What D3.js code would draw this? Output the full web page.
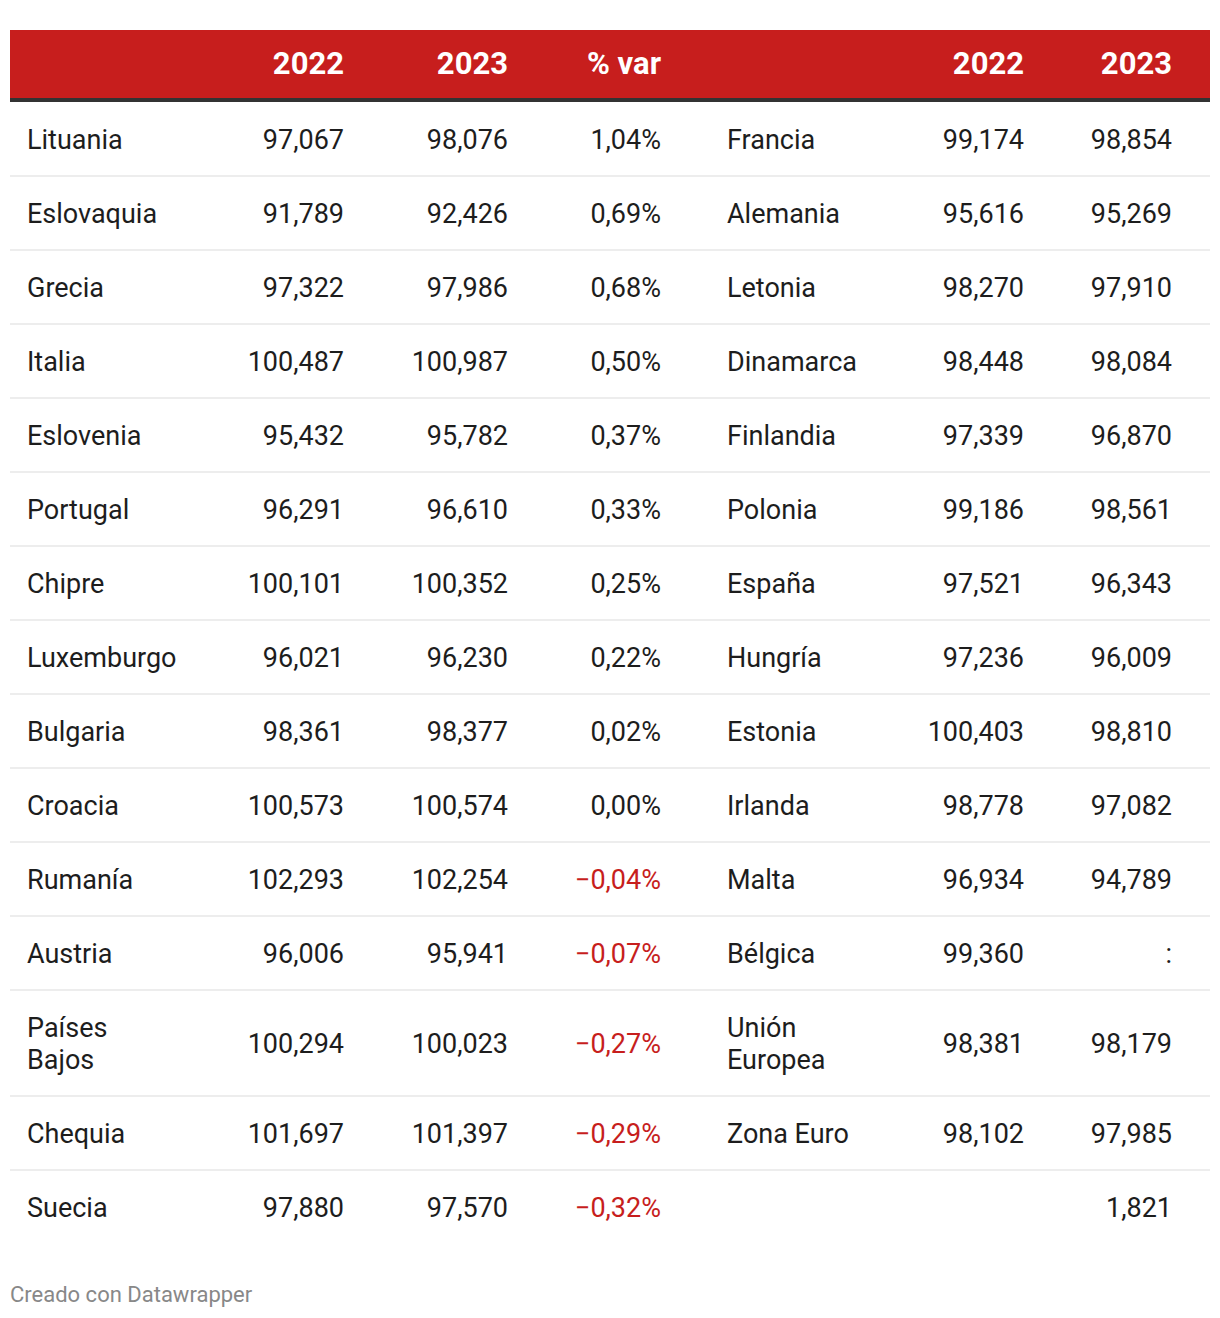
<!DOCTYPE html>
<html>
<head>
<meta charset="utf-8">
<script src="https://cdn.jsdelivr.net/npm/d3@7"></script>
<style>
  body { margin: 0; background: #fff; }
  svg { display: block; font-family: Roboto, "Noto Sans", sans-serif; }
</style>
</head>
<body>
<div id="chart"></div>
<script>
// left block
const leftNames = ["Lituania", "Eslovaquia", "Grecia", "Italia", "Eslovenia", "Portugal", "Chipre",
  "Luxemburgo", "Bulgaria", "Croacia", "Rumanía", "Austria", "Países Bajos", "Chequia", "Suecia"];
const left2022 = ["97,067", "91,789", "97,322", "100,487", "95,432", "96,291", "100,101",
  "96,021", "98,361", "100,573", "102,293", "96,006", "100,294", "101,697", "97,880"];
const left2023 = ["98,076", "92,426", "97,986", "100,987", "95,782", "96,610", "100,352",
  "96,230", "98,377", "100,574", "102,254", "95,941", "100,023", "101,397", "97,570"];
const pctVar = [1.04, 0.69, 0.68, 0.50, 0.37, 0.33, 0.25, 0.22, 0.02, 0.00, -0.04, -0.07, -0.27, -0.29, -0.32];

// right block
const rightNames = ["Francia", "Alemania", "Letonia", "Dinamarca", "Finlandia", "Polonia", "España",
  "Hungría", "Estonia", "Irlanda", "Malta", "Bélgica", "Unión Europea", "Zona Euro", ""];
const right2022 = ["99,174", "95,616", "98,270", "98,448", "97,339", "99,186", "97,521",
  "97,236", "100,403", "98,778", "96,934", "99,360", "98,381", "98,102", ""];
const right2023 = ["98,854", "95,269", "97,910", "98,084", "96,870", "98,561", "96,343",
  "96,009", "98,810", "97,082", "94,789", ":", "98,179", "97,985", "1,821"];

const headers = ["", "2022", "2023", "% var", "", "2022", "2023"];

const width = 1220, height = 1318;
const margin = {top: 30, left: 10, right: 10};
const red = "#c71e1d";

const svg = d3.select("#chart").append("svg")
  .attr("width", width)
  .attr("height", height)
  .attr("viewBox", [0, 0, width, height]);

// column anchors: name columns start-aligned, number columns end-aligned
const cols = d3.range(7);
const colX = d3.scaleOrdinal(cols, [27, 344, 508, 661, 727, 1024, 1172]);
const colAnchor = c => (c === 0 || c === 4) ? "start" : "end";

const fmtPct = v => (v < 0 ? "\u2212" : "") + d3.format(".2f")(Math.abs(v)).replace(".", ",") + "%";

const rows = leftNames.map((n, i) => ({
  cells: [n, left2022[i], left2023[i], fmtPct(pctVar[i]), rightNames[i], right2022[i], right2023[i]],
  neg: pctVar[i] < 0
}));

// header
const headH = 68;
svg.append("rect")
  .attr("x", margin.left).attr("y", margin.top)
  .attr("width", width - margin.left - margin.right).attr("height", headH)
  .attr("fill", red);
svg.append("rect")
  .attr("x", margin.left).attr("y", margin.top + headH)
  .attr("width", width - margin.left - margin.right).attr("height", 4)
  .attr("fill", "#333");

svg.append("g")
  .selectAll("text")
  .data(headers)
  .join("text")
  .attr("x", (d, i) => colX(i))
  .attr("y", margin.top + 44)
  .attr("text-anchor", (d, i) => colAnchor(i))
  .attr("fill", "#fff")
  .attr("font-weight", 700)
  .attr("font-size", 31)
  .text(d => d);

// body
const fontSize = 27, lineH = 32, nameMax = 151;
const body = svg.append("g");
let y = margin.top + headH + 4;

rows.forEach((r, ri) => {
  const g = body.append("g");
  // wrap name cells
  const wrapped = r.cells.map((c, ci) => {
    if (ci !== 0 && ci !== 4) return [c];
    const probe = g.append("text").attr("font-size", fontSize).text(c);
    const w = probe.node().getComputedTextLength();
    probe.remove();
    return (w > nameMax && c.includes(" ")) ? c.split(" ") : [c];
  });
  const nLines = d3.max(wrapped, l => l.length);
  const rowH = 74 + (nLines - 1) * lineH;
  const cy = y + rowH / 2;

  r.cells.forEach((c, ci) => {
    const lines = wrapped[ci];
    const t = g.append("text")
      .attr("text-anchor", colAnchor(ci))
      .attr("font-size", fontSize)
      .attr("fill", ci === 3 && r.neg ? red : "#1d1d1d");
    lines.forEach((ln, li) => {
      t.append("tspan")
        .attr("x", colX(ci))
        .attr("y", cy + 9.5 + (li - (lines.length - 1) / 2) * lineH)
        .text(ln);
    });
  });

  y += rowH;
  if (ri < rows.length - 1) {
    body.append("rect")
      .attr("x", margin.left).attr("y", y - 1)
      .attr("width", width - margin.left - margin.right).attr("height", 2)
      .attr("fill", "#ededed");
  }
});

svg.append("text")
  .attr("x", 10)
  .attr("y", 1302)
  .attr("font-size", 22)
  .attr("fill", "#888")
  .text("Creado con Datawrapper");
</script>
</body>
</html>
